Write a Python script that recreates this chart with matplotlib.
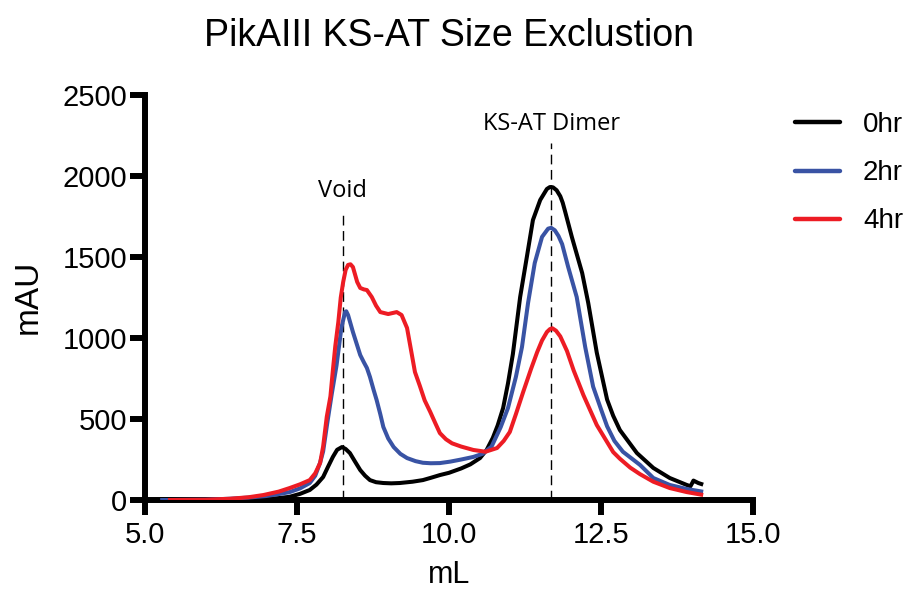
import matplotlib
matplotlib.use("Agg")
import matplotlib.pyplot as plt

# Elution volume (mL) and absorbance (mAU) for each time point
ml_0hr = [5.25, 6.5, 7.0, 7.2, 7.38, 7.55, 7.71, 7.82, 7.93, 8.01, 8.09, 8.16,
          8.24, 8.30, 8.37, 8.45, 8.54, 8.62, 8.70, 8.80, 8.92, 9.05, 9.19,
          9.40, 9.57, 9.70, 9.85, 10.0, 10.2, 10.35, 10.51, 10.62, 10.72,
          10.80, 10.89, 10.97, 11.05, 11.17, 11.28, 11.38, 11.50, 11.61,
          11.66, 11.71, 11.77, 11.83, 11.87, 11.91, 12.02, 12.19, 12.29,
          12.43, 12.60, 12.70, 12.81, 13.09, 13.36, 13.63, 13.91, 13.97,
          14.0, 14.02, 14.10, 14.18]
mau_0hr = [0, 2, 6, 12, 20, 38, 62, 95, 142, 205, 266, 310,
           327, 315, 290, 240, 185, 150, 123, 110, 105, 103, 105,
           113, 123, 137, 154, 168, 195, 220, 259, 310, 383,
           460, 568, 720, 900, 1253, 1500, 1728, 1852, 1920,
           1932, 1930, 1912, 1875, 1835, 1780, 1624, 1401, 1216,
           910, 620, 520, 432, 290, 198, 136, 93, 85,
           105, 120, 105, 95]

ml_2hr = [5.25, 6.0, 6.4, 6.7, 7.0, 7.22, 7.38, 7.55, 7.71, 7.80, 7.88, 7.93,
          8.0, 8.07, 8.15, 8.23, 8.29, 8.31, 8.34, 8.42, 8.54, 8.60, 8.65,
          8.70, 8.76, 8.81, 8.87, 8.92, 9.0, 9.09, 9.2, 9.31, 9.45, 9.57,
          9.70, 9.85, 10.02, 10.2, 10.4, 10.55, 10.7, 10.85, 10.97, 11.1,
          11.20, 11.30, 11.41, 11.53, 11.63, 11.68, 11.74, 11.80, 11.86,
          11.96, 12.10, 12.24, 12.37, 12.50, 12.60, 12.72, 12.86, 13.14,
          13.36, 13.63, 13.91, 14.18]
mau_2hr = [0, 2, 8, 15, 25, 38, 49, 72, 105, 150, 230, 300,
           480, 650, 830, 1062, 1160, 1165, 1142, 1037, 895, 850, 815,
           760, 680, 617, 530, 451, 380, 327, 285, 259, 240, 230,
           227, 228, 237, 250, 266, 285, 330, 450, 568, 760,
           944, 1216, 1463, 1624, 1675, 1680, 1665, 1630, 1580,
           1438, 1253, 944, 700, 560, 455, 365, 298, 217,
           136, 93, 68, 51]

ml_4hr = [5.38, 6.0, 6.4, 6.7, 6.95, 7.2, 7.38, 7.55, 7.71, 7.80, 7.88, 7.93,
          7.99, 8.05, 8.09, 8.13, 8.18, 8.22, 8.26, 8.30, 8.34, 8.38, 8.42,
          8.49, 8.54, 8.60, 8.65, 8.73, 8.80, 8.87, 9.0, 9.14, 9.22, 9.31,
          9.39, 9.44, 9.52, 9.60, 9.69, 9.78, 9.85, 9.95, 10.05, 10.2, 10.4,
          10.6, 10.79, 10.9, 11.0, 11.1, 11.22, 11.35, 11.45, 11.53, 11.61,
          11.66, 11.70, 11.76, 11.83, 11.94, 12.05, 12.21, 12.43, 12.70,
          12.81, 12.98, 13.14, 13.36, 13.63, 13.91, 14.18]
mau_4hr = [0, 2, 8, 17, 31, 52, 74, 97, 123, 165, 228, 330,
           514, 640, 800, 950, 1099, 1250, 1346, 1420, 1451, 1455, 1438,
           1346, 1309, 1300, 1296, 1253, 1200, 1160, 1148, 1160, 1142, 1062,
           895, 790, 705, 615, 545, 470, 413, 375, 350, 330, 309,
           298, 321, 365, 420, 530, 667, 810, 913, 985, 1037,
           1055, 1060, 1045, 1010, 920, 800, 648, 463, 296,
           255, 200, 160, 113, 74, 49, 31]

series_labels = ["0hr", "2hr", "4hr"]
series_colors = ["#000000", "#3953A4", "#ED1C24"]

marker_names = ["Void", "KS-AT Dimer"]
marker_ml = [8.25, 11.68]
marker_top = [1790, 2205]

x_ticks = [5.0, 7.5, 10.0, 12.5, 15.0]
y_ticks = [0, 500, 1000, 1500, 2000, 2500]

plt.rcParams["font.family"] = ["Liberation Sans", "DejaVu Sans"]

fig = plt.figure(figsize=(9.14, 5.90), dpi=100)
ax = fig.add_axes([0.1586, 0.1525, 0.8239 - 0.1586, 0.839 - 0.1525])

# dashed reference lines for the void and dimer positions
for xm, top in zip(marker_ml, marker_top):
    ax.plot([xm, xm], [0, top], color="black", lw=1.0, dashes=(7, 4), zorder=1)

for xs, ys, lab, col in zip([ml_0hr, ml_2hr, ml_4hr],
                            [mau_0hr, mau_2hr, mau_4hr],
                            series_labels, series_colors):
    ax.plot(xs, ys, color=col, lw=2.9, label=lab, solid_capstyle="butt",
            solid_joinstyle="round", zorder=3)

ax.text(marker_ml[0], 1835, marker_names[0], ha="center", va="bottom",
        fontsize=17, family=["Open Sans", "DejaVu Sans"])
ax.text(marker_ml[1], 2245, marker_names[1], ha="center", va="bottom",
        fontsize=17, family=["Open Sans", "DejaVu Sans"])

ax.set_xlim(5, 15)
ax.set_ylim(0, 2500)
ax.set_xticks(x_ticks)
ax.set_xticklabels([f"{v:.1f}" for v in x_ticks])
ax.set_yticks(y_ticks)
ax.set_yticklabels([str(v) for v in y_ticks])

for s in ["top", "right"]:
    ax.spines[s].set_visible(False)
for s in ["left", "bottom"]:
    ax.spines[s].set_linewidth(4.3)
    ax.spines[s].set_capstyle("projecting")
ax.tick_params(axis="both", which="major", width=4.3, length=11,
               labelsize=21, direction="out")
ax.tick_params(axis="y", pad=2)
ax.tick_params(axis="x", pad=4)

fig.text(449 / 914, 1 - 583 / 590, "mL", ha="center", va="baseline", fontsize=22)
fig.text(28 / 914, 1 - 297 / 590, "mAU", ha="center", va="center",
         fontsize=24, rotation=90)
fig.text(449.5 / 914, 1 - 46 / 590, "PikAIII KS-AT Size Exclustion",
         ha="center", va="baseline", fontsize=27)

leg = fig.legend(loc="upper left", bbox_to_anchor=(795 / 914, 1 - 112 / 590),
                 frameon=False, fontsize=20, handlelength=1.62,
                 handletextpad=0.83, labelspacing=0.8, borderpad=0,
                 borderaxespad=0)
for line in leg.get_lines():
    line.set_linewidth(3.2)
    line.set_solid_capstyle("round")

fig.savefig("out.png", dpi=100)
